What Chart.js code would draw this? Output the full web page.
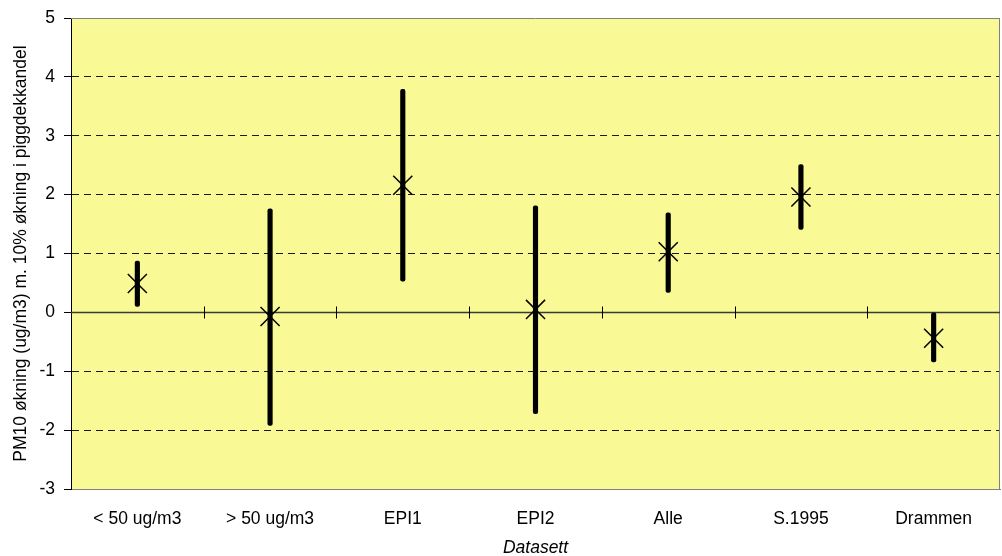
<!DOCTYPE html>
<html>
<head>
<meta charset="utf-8">
<script src="https://cdn.jsdelivr.net/npm/chart.js@4/dist/chart.umd.min.js"></script>
<style>
  html, body { margin: 0; padding: 0; background: #ffffff; }
  #wrap { width: 1002px; height: 556px; }
</style>
</head>
<body>
<div id="wrap"><canvas id="c" width="1002" height="556"></canvas></div>
<script>
// Datasett og estimert PM10-økning med usikkerhetsintervall
const categories = ['< 50 ug/m3', '> 50 ug/m3', 'EPI1', 'EPI2', 'Alle', 'S.1995', 'Drammen'];
const estimate   = [0.49, -0.07, 2.16, 0.05, 1.03, 1.96, -0.44];
const lower      = [0.10, -1.92, 0.53, -1.72, 0.34, 1.41, -0.84];
const upper      = [0.87, 1.76, 3.79, 1.81, 1.69, 2.51, 0.00];
const yMin = -3, yMax = 5, yStep = 1;

const FONT = "'Liberation Sans', Arial, sans-serif";

// Plot background, frame, zero line with category divider ticks
const framePlugin = {
  id: 'frame',
  beforeDraw(chart) {
    const { ctx, chartArea: a } = chart;
    ctx.save();
    ctx.fillStyle = '#F9F995';
    ctx.fillRect(a.left, a.top, a.right - a.left, a.bottom - a.top);
    ctx.restore();
  },
  beforeDatasetsDraw(chart) {
    const { ctx, chartArea: a } = chart;
    const x = chart.scales.x, y = chart.scales.y;
    ctx.save();
    // top and right border
    ctx.strokeStyle = '#808080';
    ctx.lineWidth = 1;
    ctx.beginPath();
    ctx.moveTo(a.left, Math.round(a.top) + 0.5);
    ctx.lineTo(a.right, Math.round(a.top) + 0.5);
    ctx.moveTo(Math.round(a.right) - 0.5, a.top);
    ctx.lineTo(Math.round(a.right) - 0.5, a.bottom);
    ctx.stroke();
    // zero line
    const y0 = Math.round(y.getPixelForValue(0)) + 0.5;
    ctx.strokeStyle = '#3a3a3a';
    ctx.lineWidth = 1.3;
    ctx.beginPath();
    ctx.moveTo(a.left, y0);
    ctx.lineTo(a.right, y0);
    ctx.stroke();
    // divider ticks between categories on the zero line
    ctx.strokeStyle = '#000';
    ctx.lineWidth = 1;
    ctx.beginPath();
    for (let i = 0; i < categories.length - 1; i++) {
      const xb = Math.round((x.getPixelForValue(i) + x.getPixelForValue(i + 1)) / 2) + 0.5;
      ctx.moveTo(xb, y0 - 6);
      ctx.lineTo(xb, y0 + 6);
    }
    ctx.stroke();
    ctx.restore();
  }
};

const intervals = categories.map((_, i) => [lower[i], upper[i]]);

new Chart(document.getElementById('c'), {
  data: {
    labels: categories,
    datasets: [
      {
        type: 'line',
        label: 'Estimat',
        data: estimate,
        showLine: false,
        pointStyle: 'crossRot',
        pointRadius: 13.5,
        pointHoverRadius: 13.5,
        pointBorderWidth: 1.5,
        pointBorderColor: '#000',
        pointBackgroundColor: '#000',
        borderColor: '#000',
        order: 0
      },
      {
        type: 'bar',
        label: 'Intervall',
        data: intervals,
        backgroundColor: '#000',
        borderWidth: 0,
        borderRadius: 2,
        borderSkipped: false,
        barThickness: 4.5,
        order: 1
      }
    ]
  },
  options: {
    responsive: false,
    animation: false,
    events: [],
    layout: { autoPadding: false, padding: { top: 18, right: 2, left: 0, bottom: 0 } },
    plugins: { legend: { display: false }, tooltip: { enabled: false } },
    scales: {
      x: {
        type: 'category',
        offset: true,
        grid: { display: false },
        border: { display: true, color: '#808080', width: 1 },
        ticks: { color: '#000', font: { family: FONT, size: 17.5 }, padding: 12, maxRotation: 0, autoSkip: false },
        title: {
          display: true,
          text: 'Datasett',
          color: '#000',
          font: { family: FONT, size: 17.5, style: 'italic', lineHeight: 1 },
          padding: { top: 0, bottom: -1 }
        },
        afterFit(scale) {
          scale.height = 67;
          scale.paddingLeft = 0;
          scale.paddingRight = 0;
        }
      },
      y: {
        min: yMin,
        max: yMax,
        ticks: { stepSize: yStep, color: '#000', font: { family: FONT, size: 17.5 }, padding: 9 },
        grid: {
          color: (c) => (c.tick && (c.tick.value === 0 || c.tick.value === yMax || c.tick.value === yMin)) ? 'rgba(0,0,0,0)' : '#1a1a1a',
          tickColor: '#000',
          tickLength: 7,
          lineWidth: 1
        },
        border: { display: true, color: '#000', width: 1, dash: [7, 5] },
        title: {
          display: true,
          text: 'PM10 økning (ug/m3) m. 10% økning i piggdekkandel',
          color: '#000',
          font: { family: FONT, size: 17.5, lineHeight: 1.2 },
          padding: { top: 11, bottom: 0 }
        },
        afterFit(scale) {
          scale.width = 71;
          scale.paddingTop = 0;
          scale.paddingBottom = 0;
        }
      }
    }
  },
  plugins: [framePlugin]
});
</script>
</body>
</html>
